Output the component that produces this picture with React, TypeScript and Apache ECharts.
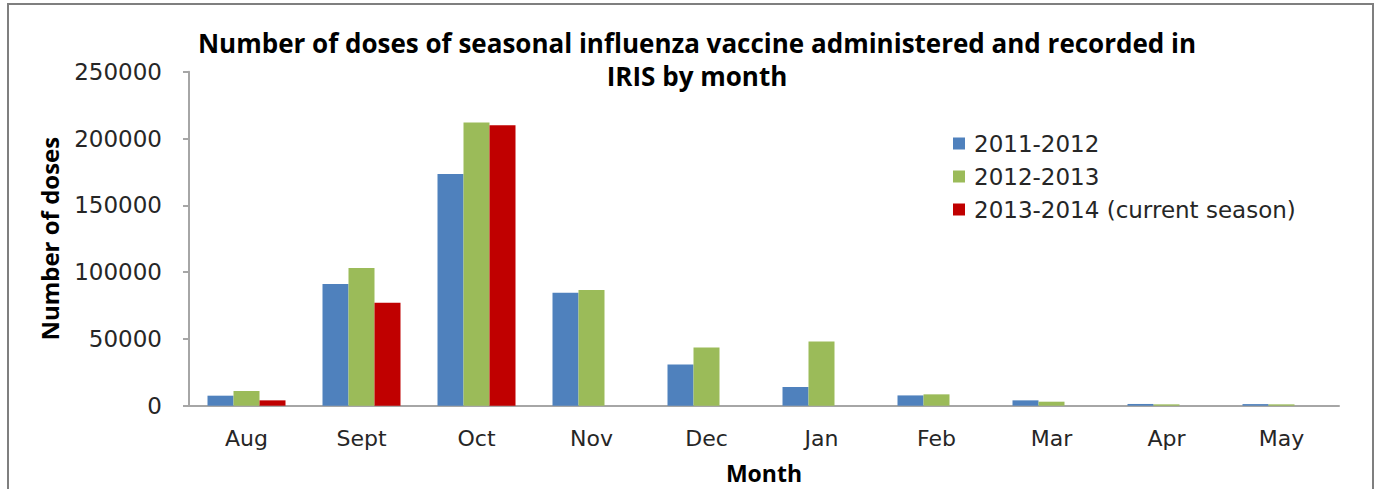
import React, { useEffect, useRef } from "react";
import * as echarts from "echarts";

const months = ["Aug", "Sept", "Oct", "Nov", "Dec", "Jan", "Feb", "Mar", "Apr", "May"];
const season2011 = [7500, 91000, 173500, 84600, 30800, 14000, 7700, 4000, 1300, 1200];
const season2012 = [11000, 103000, 212000, 86600, 43500, 48000, 8500, 3000, 1000, 1000];
const season2013 = [4000, 77000, 210000, null, null, null, null, null, null, null];
const yTicks = { min: 0, max: 250000, interval: 50000 };

const FONT = "DejaVu Sans";
const BOLD = "Open Sans";

export default function App() {
  const ref = useRef<HTMLDivElement>(null);
  useEffect(() => {
    if (!ref.current) return;
    const chart = echarts.init(ref.current, null, { renderer: "svg" });
    const bar = (name: string, data: any[], color: string) => ({
      name,
      type: "bar",
      data,
      barWidth: 26,
      barGap: "0%",
      itemStyle: { color },
    });
    chart.setOption({
      animation: false,
      backgroundColor: "#ffffff",
      title: {
        text: "Number of doses of seasonal influenza vaccine administered and recorded in\nIRIS by month",
        left: 692,
        textAlign: "center",
        top: 21,
        textStyle: {
          fontFamily: BOLD,
          fontWeight: "bold",
          fontSize: 26,
          lineHeight: 33,
          color: "#000000",
        },
      },
      graphic: [
        {
          type: "rect",
          shape: { x: 8, y: 4, width: 1365, height: 500 },
          style: { fill: "none", stroke: "#7f7f7f", lineWidth: 2 },
          silent: true,
        },
      ],
      legend: {
        orient: "vertical",
        left: 948,
        top: 127,
        itemWidth: 12,
        itemHeight: 12,
        itemGap: 10,
        icon: "rect",
        textStyle: { fontFamily: FONT, fontSize: 23, color: "#262626", padding: [0, 0, 0, 4] },
        data: ["2011-2012", "2012-2013", "2013-2014 (current season)"],
      },
      grid: {
        left: 189,
        right: 40,
        top: 71.7,
        bottom: 83.3,
        containLabel: false,
        outerBoundsMode: "none",
      },
      xAxis: {
        type: "category",
        data: months,
        name: "Month",
        nameLocation: "middle",
        nameGap: 56,
        nameTextStyle: { fontFamily: BOLD, fontWeight: "bold", fontSize: 23, color: "#000" },
        axisLine: { lineStyle: { color: "#a6a6a6", width: 2 } },
        axisTick: { show: false },
        axisLabel: { fontFamily: FONT, fontSize: 22, color: "#262626", margin: 22 },
      },
      yAxis: {
        type: "value",
        min: yTicks.min,
        max: yTicks.max,
        interval: yTicks.interval,
        name: "Number of doses",
        nameLocation: "middle",
        nameGap: 128,
        nameRotate: 90,
        nameTextStyle: { fontFamily: BOLD, fontWeight: "bold", fontSize: 24, color: "#000" },
        axisLine: { show: true, lineStyle: { color: "#a6a6a6", width: 2 } },
        axisTick: { show: true, length: 6, lineStyle: { color: "#a6a6a6", width: 2 } },
        splitLine: { show: false },
        axisLabel: {
          fontFamily: FONT,
          fontSize: 23,
          color: "#262626",
          margin: 27,
          formatter: (v: number) => String(v),
        },
      },
      series: [
        bar("2011-2012", season2011, "#4f81bd"),
        bar("2012-2013", season2012, "#9bbb59"),
        bar("2013-2014 (current season)", season2013, "#c00000"),
      ],
    });
    return () => chart.dispose();
  }, []);
  return (
    <div
      ref={ref}
      style={{ position: "fixed", left: 0, top: 0, width: 1379, height: 489 }}
    />
  );
}
